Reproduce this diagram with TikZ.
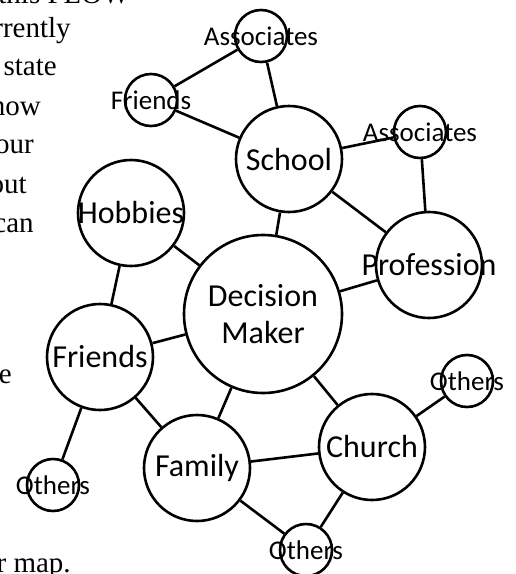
\documentclass[tikz,border=0pt]{standalone}
\usepackage{fontspec}
\newfontfamily\calibri{Carlito}
\newfontfamily\bookfont{Liberation Serif}
\begin{document}
\begin{tikzpicture}[x=1pt, y=-1pt, line width=2.6pt,
  big/.style={circle, draw, line width=2.6pt, inner sep=0pt, minimum size=106pt, font=\calibri\fontsize{32}{37}\selectfont},
  small/.style={big, minimum size=52pt, font=\calibri\fontsize{27}{29}\selectfont},
  book/.style={anchor=base east, inner sep=0pt, font=\bookfont\fontsize{29}{35}\selectfont}]
\useasboundingbox (0,0) rectangle (515,574);
% page text cut off on the left
\node[book] (t1) at (131,3) {this FLOW};
\node[book] (t2) at (72,37) {rrently};
\node[book] (t3) at (58,75) {state};
\node[book] (t4) at (42,115) {how};
\node[book] (t5) at (35,153) {our};
\node[book] (t6) at (28,193) {out};
\node[book] (t7) at (35,232) {can};
\node[book] (t8) at (13,383) {e};
\node[book] (t9) at (72,572) {r map.};
% circles (text may run over the rim)
\node[big, minimum size=158pt, align=center] (dm) at (263,314) {Decision\\Maker};
\node[big] (school) at (289,159) {\makebox[0pt]{School}};
\node[small] (assoc1) at (261,36) {\makebox[0pt]{Associates}};
\node[small] (friends2) at (151,100) {\makebox[0pt]{Friends}};
\node[small] (assoc2) at (420,132) {\makebox[0pt]{Associates}};
\node[big] (prof) at (429,265) {\makebox[0pt]{Profession}};
\node[big] (hobbies) at (131,213) {\makebox[0pt]{Hobbies}};
\node[big] (friends) at (100,357) {\makebox[0pt]{Friends}};
\node[small] (others1) at (53,485) {\makebox[0pt]{Others}};
\node[big] (family) at (197,468) {\makebox[0pt]{Family}};
\node[big] (church) at (372,447) {\makebox[0pt]{Church}};
\node[small] (others2) at (467,381) {\makebox[0pt]{Others}};
\node[small] (others3) at (306,550) {\makebox[0pt]{Others}};
% links
\draw (friends2) -- (assoc1);
\draw (friends2) -- (school);
\draw (assoc1) -- (school);
\draw (school) -- (assoc2);
\draw (assoc2) -- (prof);
\draw (school) -- (prof);
\draw (school) -- (dm);
\draw (dm) -- (prof);
\draw (hobbies) -- (friends);
\draw (hobbies) -- (dm);
\draw (friends) -- (dm);
\draw (friends) -- (others1);
\draw (friends) -- (family);
\draw (dm) -- (family);
\draw (dm) -- (church);
\draw (family) -- (church);
\draw (family) -- (others3);
\draw (church) -- (others3);
\draw (church) -- (others2);

\end{tikzpicture}
\end{document}
